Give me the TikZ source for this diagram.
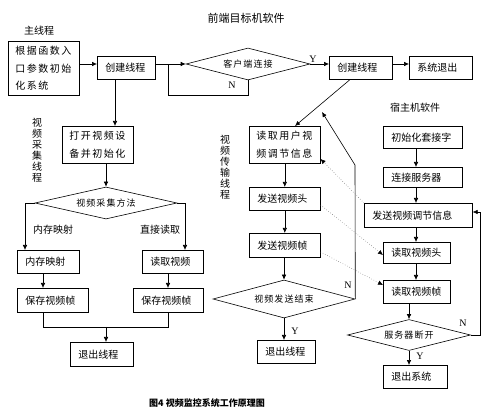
\documentclass[tikz,border=0pt]{standalone}
\usepackage{fontspec}
\setmainfont{Liberation Serif}
\newfontfamily\cjk{Noto Sans CJK SC}
\newfontfamily\cjkw[LetterSpace=15]{Noto Sans CJK SC}
\newfontfamily\cjkd[LetterSpace=12]{Noto Sans CJK SC}
\usetikzlibrary{shapes.geometric,arrows.meta,calc}
\begin{document}
\begin{tikzpicture}[x=1pt,y=-1pt,
  lw/.style={line width=0.6pt},
  box/.style={draw, lw, inner xsep=8pt, inner ysep=0pt, align=left, anchor=north west,
    font=\cjk\fontsize{10}{12}\selectfont},
  mbox/.style={box, inner xsep=7pt, font=\cjkw\fontsize{10}{17.5}\selectfont},
  dia/.style={diamond, draw, lw, inner sep=0pt, aspect=3.5, font=\cjkd\fontsize{9}{10}\selectfont},
  lbl/.style={inner sep=0pt, font=\cjk\fontsize{10}{12}\selectfont},
  vlbl/.style={inner sep=0pt, align=center, font=\cjk\fontsize{10}{11}\selectfont},
  yn/.style={inner sep=0pt, font=\rmfamily\fontsize{10}{12}\selectfont},
  arr/.style={draw, lw, -{Latex[length=5pt,width=4.5pt]}},
  ln/.style={draw, lw},
  dotarr/.style={draw=black!60, dotted, line width=0.5pt, -{Latex[length=5pt,width=4.5pt,color=black]}}
]
\useasboundingbox (0,0) rectangle (495,411);

% titles
\node[lbl] (tmain) at (39,31) {主线程};
\node[lbl, font=\cjk\fontsize{11}{12}\selectfont] (tfront) at (246,18) {前端目标机软件};
\node[lbl] (thost) at (415,108) {宿主机软件};
\node[vlbl] (tcap) at (37,150) {视\\频\\采\\集\\线\\程};
\node[vlbl] (ttrans) at (225,167) {视\\频\\传\\输\\线\\程};

% top row
\node[mbox, text width=57pt, minimum height=54pt] (init) at (8,41) {根据函数入\\口参数初始\\化系统};
\node[box, text width=42pt, minimum height=23pt] (create1) at (97,56) {创建线程};
\node[dia, minimum width=124pt, minimum height=32pt] (d1) at (248,64) {客户端连接};
\node[box, text width=47pt, minimum height=23pt] (create2) at (329,56) {创建线程};
\node[box, text width=47pt, minimum height=23pt] (sysexit) at (409,56) {系统退出};

% left column
\node[mbox, text width=57pt, minimum height=37pt] (open) at (62,126) {打开视频设\\备并初始化};
\node[dia, minimum width=142pt, minimum height=32pt] (d2) at (106,203) {视频采集方法};
\node[box, text width=46pt, minimum height=23pt] (mem) at (17,250) {内存映射};
\node[box, text width=45pt, minimum height=23pt] (rd) at (142,250) {读取视频};
\node[box, text width=55pt, minimum height=24pt] (save1) at (17,288) {保存视频帧};
\node[box, text width=54pt, minimum height=24pt] (save2) at (133,288) {保存视频帧};
\node[box, text width=47pt, minimum height=24pt] (exit1) at (70,342) {退出线程};
\node[lbl] (lmem) at (53,230) {内存映射};
\node[lbl] (lrd) at (160,230) {直接读取};

% middle column
\node[mbox, text width=57pt, minimum height=37pt] (readu) at (249,126) {读取用户视\\频调节信息};
\node[box, text width=55pt, minimum height=23pt] (sendh) at (249,187) {发送视频头};
\node[box, text width=55pt, minimum height=24pt] (sendf) at (249,233) {发送视频帧};
\node[dia, minimum width=142pt, minimum height=38pt] (d3) at (284,299) {视频发送结束};
\node[box, text width=42pt, minimum height=23pt] (exit2) at (257,340) {退出线程};

% right column
\node[box, text width=63pt, minimum height=22pt] (initsock) at (383,126) {初始化套接字};
\node[box, text width=63pt, minimum height=20pt] (connect) at (383,167) {连接服务器};
\node[box, text width=92pt, minimum height=24pt] (sendadj) at (364,203) {发送视频调节信息};
\node[box, text width=51pt, minimum height=21pt] (readh) at (383,242) {读取视频头};
\node[box, text width=51pt, minimum height=23pt] (readf) at (383,280) {读取视频帧};
\node[dia, minimum width=123pt, minimum height=31pt] (d4) at (409,335) {服务器断开};
\node[box, text width=48pt, minimum height=23pt] (exit3) at (383,365) {退出系统};

% Y/N labels
\node[yn] (y1) at (313,59) {Y};
\node[yn] (n1) at (232,85) {N};
\node[yn] (y3) at (295,331) {Y};
\node[yn] (n3) at (348,285) {N};
\node[yn] (y4) at (420,356) {Y};
\node[yn] (n4) at (463,323) {N};

% caption
\node[lbl, font=\cjk\bfseries\fontsize{9}{11}\selectfont] (cap) at (207,403) {图4\ 视频监控系统工作原理图};

% helper coordinates
\coordinate (r1) at (0,64);
\coordinate (lp1) at (168,95);
\coordinate (c115) at (115,0);
\coordinate (c25) at (25,0);
\coordinate (c185) at (185,0);
\coordinate (c43) at (43,0);
\coordinate (c168) at (168,0);
\coordinate (m1) at (106,327);
\coordinate (c350) at (350,0);
\coordinate (c295) at (295,0);
\coordinate (c355) at (355,165);
\coordinate (tip1) at (322,112);
\coordinate (cR) at (416,0);
\coordinate (c480) at (480,212);
\coordinate (c159) at (0,159);
\coordinate (c205) at (0,205);
\coordinate (c255) at (0,255);
\coordinate (c252) at (0,252);
\coordinate (c285) at (0,285);

% top row connectors
\draw[arr] (init.east |- r1) -- (create1.west |- r1);
\draw[arr] (create1.east |- r1) -- (d1.west);
\draw[ln] (d1.south) |- (lp1) -- (lp1 |- r1);
\draw[arr] (d1.east) -- (create2.west |- d1.east);
\draw[arr] (create2.east |- r1) -- (sysexit.west |- r1);

% left column connectors
\draw[arr] (create1.south -| c115) -- (open.north -| c115);
\draw[arr] (open.south -| d2.north) -- (d2.north);
\draw[arr] (d2.west) -| (mem.north -| c25);
\draw[arr] (d2.east) -| (rd.north -| c185);
\draw[arr] (mem.south -| c43) -- (save1.north -| c43);
\draw[arr] (rd.south -| c168) -- (save2.north -| c168);
\draw[ln] (save1.south -| c43) |- (m1);
\draw[ln] (save2.south -| c168) |- (m1);
\draw[arr] (m1) -- (exit1.north -| m1);

% middle column connectors
\draw[arr] (create2.south -| c350) -- (readu.north -| c295);
\draw[arr] (readu.south) -- (sendh.north);
\draw[arr] (sendh.south) -- (sendf.north);
\draw[arr] (sendf.south -| d3.north) -- (d3.north);
\draw[arr] (d3.south) -- (exit2.north -| d3.south);
\draw[arr] (d3.east) -- (c355) -- (tip1);

% right column connectors
\draw[arr] (initsock.south -| cR) -- (connect.north -| cR);
\draw[arr] (connect.south -| cR) -- (sendadj.north -| cR);
\draw[arr] (sendadj.south -| cR) -- (readh.north -| cR);
\draw[arr] (readh.south -| cR) -- (readf.north -| cR);
\draw[arr] (readf.south -| d4.north) -- (d4.north);
\draw[arr] (d4.south) -- (exit3.north -| d4.south);
\draw[arr] (d4.east) -| (c480) -- (sendadj.east |- c480);

% dotted cross connectors
\draw[dotarr] (sendadj.north west) -- (readu.east |- c159);
\draw[dotarr] (sendh.east |- c205) -- (readh.west |- c255);
\draw[dotarr] (sendf.east |- c252) -- (readf.west |- c285);
\end{tikzpicture}
\end{document}
